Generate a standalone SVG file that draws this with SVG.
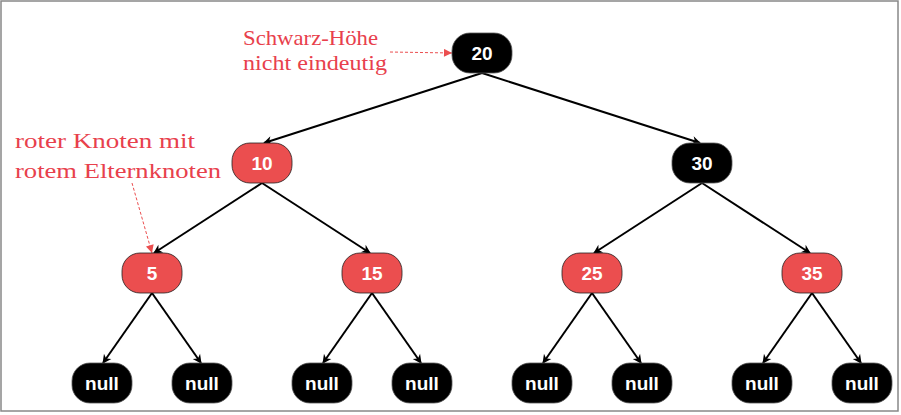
<svg xmlns="http://www.w3.org/2000/svg" width="901" height="415" viewBox="0 0 901 415">
<style>
.b{fill:#000;stroke:#555;stroke-width:0.8}
.r{fill:#EB4E4F;stroke:#222;stroke-width:0.8}
.t{font-family:"Liberation Sans",Arial,sans-serif;font-weight:bold;font-size:19px;fill:#fff;text-anchor:middle}
.e{stroke:#000;stroke-width:2;fill:none;marker-end:url(#a)}
.d{stroke:#EB4E4F;stroke-width:1;stroke-dasharray:3 2;fill:none;marker-end:url(#ar)}
.n{font-family:"Liberation Serif","Times New Roman",serif;font-size:22px;fill:#E8404C}
</style>
<defs>
<marker id="a" viewBox="0 0 10 10" refX="9" refY="5" markerWidth="6" markerHeight="6" orient="auto" markerUnits="userSpaceOnUse" style="overflow:visible"><path d="M0,0 L10,5 L0,10 L3,5 Z" fill="#000" transform="scale(1.5) translate(-3,-1.7)"/></marker>
<marker id="ar" viewBox="0 0 10 10" refX="10" refY="5" markerWidth="9" markerHeight="8" orient="auto" markerUnits="userSpaceOnUse"><path d="M0,0 L10,5 L0,10 Z" fill="#EB4E4F"/></marker>
</defs>
<rect x="1" y="1" width="897" height="410" fill="#fff" stroke="#888" stroke-width="1.5"/>
<g id="connectors">
<line class="e" x1="482" y1="73" x2="264" y2="143"/>
<line class="e" x1="482" y1="73" x2="700" y2="143"/>
<line class="e" x1="262" y1="183" x2="154" y2="253"/>
<line class="e" x1="262" y1="183" x2="370" y2="253"/>
<line class="e" x1="702" y1="183" x2="594" y2="253"/>
<line class="e" x1="702" y1="183" x2="810" y2="253"/>
<line class="e" x1="152" y1="293" x2="103" y2="363"/>
<line class="e" x1="152" y1="293" x2="201" y2="363"/>
<line class="e" x1="372" y1="293" x2="323" y2="363"/>
<line class="e" x1="372" y1="293" x2="421" y2="363"/>
<line class="e" x1="592" y1="293" x2="543" y2="363"/>
<line class="e" x1="592" y1="293" x2="641" y2="363"/>
<line class="e" x1="812" y1="293" x2="763" y2="363"/>
<line class="e" x1="812" y1="293" x2="861" y2="363"/>
<line class="d" x1="390" y1="52" x2="452" y2="53"/>
<line class="d" x1="132" y1="183" x2="152" y2="253"/>
</g>
<g id="n20"><rect class="b" x="452" y="33" width="60" height="40" rx="18" ry="18"/><text class="t" x="482" y="60">20</text></g>
<g id="n10"><rect class="r" x="232" y="143" width="60" height="40" rx="18" ry="18"/><text class="t" x="262" y="170">10</text></g>
<g id="n30"><rect class="b" x="672" y="143" width="60" height="40" rx="18" ry="18"/><text class="t" x="702" y="170">30</text></g>
<g id="n5"><rect class="r" x="122" y="253" width="60" height="40" rx="18" ry="18"/><text class="t" x="152" y="280">5</text></g>
<g id="n15"><rect class="r" x="342" y="253" width="60" height="40" rx="18" ry="18"/><text class="t" x="372" y="280">15</text></g>
<g id="n25"><rect class="r" x="562" y="253" width="60" height="40" rx="18" ry="18"/><text class="t" x="592" y="280">25</text></g>
<g id="n35"><rect class="r" x="782" y="253" width="60" height="40" rx="18" ry="18"/><text class="t" x="812" y="280">35</text></g>
<g id="null1"><rect class="b" x="72" y="363" width="60" height="40" rx="18" ry="18"/><text class="t" x="102" y="390">null</text></g>
<g id="null2"><rect class="b" x="172" y="363" width="60" height="40" rx="18" ry="18"/><text class="t" x="202" y="390">null</text></g>
<g id="null3"><rect class="b" x="292" y="363" width="60" height="40" rx="18" ry="18"/><text class="t" x="322" y="390">null</text></g>
<g id="null4"><rect class="b" x="392" y="363" width="60" height="40" rx="18" ry="18"/><text class="t" x="422" y="390">null</text></g>
<g id="null5"><rect class="b" x="512" y="363" width="60" height="40" rx="18" ry="18"/><text class="t" x="542" y="390">null</text></g>
<g id="null6"><rect class="b" x="612" y="363" width="60" height="40" rx="18" ry="18"/><text class="t" x="642" y="390">null</text></g>
<g id="null7"><rect class="b" x="732" y="363" width="60" height="40" rx="18" ry="18"/><text class="t" x="762" y="390">null</text></g>
<g id="null8"><rect class="b" x="832" y="363" width="60" height="40" rx="18" ry="18"/><text class="t" x="862" y="390">null</text></g>
<g id="notes">
<text class="n" x="243" y="45" textLength="135" lengthAdjust="spacingAndGlyphs">Schwarz-Höhe</text>
<text class="n" x="243" y="70" textLength="144" lengthAdjust="spacingAndGlyphs">nicht eindeutig</text>
<text class="n" x="15" y="148" textLength="180" lengthAdjust="spacingAndGlyphs">roter Knoten mit</text>
<text class="n" x="15" y="178" textLength="206" lengthAdjust="spacingAndGlyphs">rotem Elternknoten</text>
</g>
</svg>
